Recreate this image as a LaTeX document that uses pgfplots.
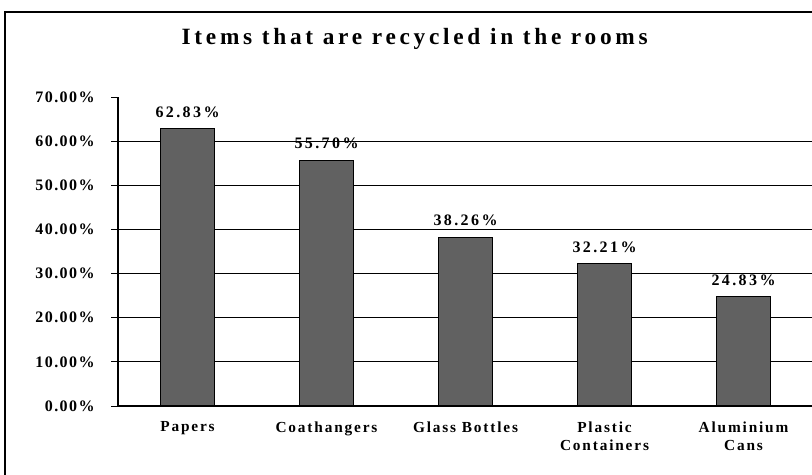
\documentclass[border=0pt]{standalone}
\usepackage{pgfplots}
\pgfplotsset{compat=1.18}
\usepackage{fontspec}
\setmainfont{Liberation Serif}
\newfontfamily\tickfont[LetterSpace=9]{Liberation Serif}
\newfontfamily\catfont[LetterSpace=12]{Liberation Serif}
\newfontfamily\valfont[LetterSpace=15]{Liberation Serif}
\newfontfamily\titlefont[LetterSpace=16]{Liberation Serif}
\begin{document}
\begin{tikzpicture}
\useasboundingbox (0,0) rectangle (609pt,355.5pt);
\draw[line width=1.5pt] (3.75pt,-5pt) -- (3.75pt,346.5pt) -- (620pt,346.5pt);
\node[font=\titlefont\bfseries\fontsize{17.5}{20}\selectfont] at (311pt,326pt) {Items that are recycled in the rooms};
\begin{axis}[
  at={(88.5pt,51pt)}, anchor=south west,
  scale only axis, width=521.25pt, height=231.75pt,
  xmin=-0.5, xmax=4.5, ymin=0, ymax=70,
  axis x line=bottom, axis y line=left,
  axis line style={-, line width=0.9pt},
  ytick={0,10,...,60},
  yticklabels={0.00\%,10.00\%,20.00\%,30.00\%,40.00\%,50.00\%,60.00\%},
  extra y ticks={70}, extra y tick labels={70.00\%},
  extra y tick style={grid=none},
  ymajorgrids, major grid style={black, line width=0.7pt},
  tick align=outside, major tick length=5pt,
  tick style={black, line width=0.7pt},
  xtick={0,...,4}, xtick style={draw=none},
  minor xtick={0.5,1.5,2.5,3.5},
  minor tick length=4pt,
  minor tick style={black, line width=0.7pt},
  xticklabels={Papers,Coathangers,Glass Bottles,Plastic\\Containers,Aluminium\\Cans},
  xticklabel style={align=center, font=\catfont\bfseries\fontsize{11.5}{13.5}\selectfont, yshift=-3pt},
  yticklabel style={font=\tickfont\bfseries\fontsize{12}{13}\selectfont, xshift=-9pt},
  ybar, bar width=41pt,
  point meta=explicit symbolic,
  nodes near coords,
  nodes near coords style={font=\valfont\bfseries\fontsize{12}{13}\selectfont, yshift=4.5pt},
]
\addplot[fill=black!62, draw=black, line width=0.8pt] coordinates {
  (0,62.83) [62.83\%]
  (1,55.70) [55.70\%]
  (2,38.26) [38.26\%]
  (3,32.21) [32.21\%]
  (4,24.83) [24.83\%]
};
\end{axis}
\end{tikzpicture}
\end{document}
